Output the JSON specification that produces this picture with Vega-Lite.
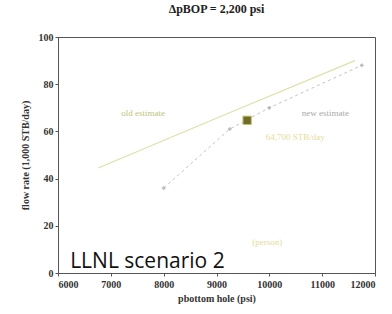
{
  "$schema": "https://vega.github.io/schema/vega-lite/v6.json",
  "width": 317,
  "height": 236,
  "autosize": {"type": "none"},
  "padding": {"left": 58, "top": 37, "right": 17, "bottom": 41},
  "background": "white",
  "title": {
    "text": "ΔpBOP = 2,200 psi",
    "font": "Liberation Serif",
    "fontSize": 12,
    "fontWeight": "bold",
    "color": "#222",
    "anchor": "middle",
    "offset": 16
  },
  "config": {
    "view": {"stroke": "#555", "strokeWidth": 1},
    "axis": {
      "grid": false,
      "domainColor": "#555",
      "tickColor": "#555",
      "tickSize": 3,
      "labelFont": "Liberation Serif",
      "labelFontSize": 10,
      "labelFontWeight": "bold",
      "labelColor": "#333",
      "titleFont": "Liberation Serif",
      "titleFontSize": 10,
      "titleFontWeight": "bold",
      "titleColor": "#333"
    }
  },
  "datasets": {
    "old": [
      {"p": 6760, "q": 44.5},
      {"p": 9200, "q": 67.5},
      {"p": 11620, "q": 90}
    ],
    "new": [
      {"p": 8000, "q": 36},
      {"p": 9250, "q": 61},
      {"p": 10000, "q": 70},
      {"p": 11750, "q": 88}
    ],
    "measured": [
      {"p": 9580, "q": 64.7}
    ]
  },
  "layer": [
    {
      "data": {"name": "old"},
      "mark": {"type": "line", "color": "#dfe0a8", "strokeWidth": 1.2},
      "encoding": {
        "x": {"field": "p", "type": "quantitative", "scale": {"domain": [6000, 12000], "nice": false},
          "axis": {"values": [6000, 7000, 8000, 9000, 10000, 11000, 12000], "format": "d", "title": "pbottom hole (psi)", "titlePadding": 4, "labelPadding": 3}},
        "y": {"field": "q", "type": "quantitative", "scale": {"domain": [0, 100], "nice": false},
          "axis": {"values": [0, 20, 40, 60, 80, 100], "title": "flow rate (1,000 STB/day)", "titlePadding": 8, "labelPadding": 2}}
      }
    },
    {
      "data": {"name": "new"},
      "mark": {"type": "line", "color": "#c4c4c4", "strokeWidth": 1, "strokeDash": [3, 3]},
      "encoding": {
        "x": {"field": "p", "type": "quantitative"},
        "y": {"field": "q", "type": "quantitative"}
      }
    },
    {
      "data": {"name": "new"},
      "mark": {"type": "point", "shape": "cross", "color": "#a0a0a0", "size": 14, "filled": true},
      "encoding": {
        "x": {"field": "p", "type": "quantitative"},
        "y": {"field": "q", "type": "quantitative"}
      }
    },
    {
      "data": {"name": "measured"},
      "mark": {"type": "square", "color": "#6f6c2c", "stroke": "#c9c26a", "strokeWidth": 1, "size": 70, "opacity": 1},
      "encoding": {
        "x": {"field": "p", "type": "quantitative"},
        "y": {"field": "q", "type": "quantitative"}
      }
    },
    {
      "data": {"values": [{"p": 7610, "q": 67.8, "label": "old estimate"}]},
      "mark": {"type": "text", "font": "Liberation Serif", "fontSize": 9, "color": "#bcc47a"},
      "encoding": {
        "x": {"field": "p", "type": "quantitative"},
        "y": {"field": "q", "type": "quantitative"},
        "text": {"field": "label"}
      }
    },
    {
      "data": {"values": [{"p": 11060, "q": 67.8, "label": "new estimate"}]},
      "mark": {"type": "text", "font": "Liberation Serif", "fontSize": 9, "color": "#a8a8a8"},
      "encoding": {
        "x": {"field": "p", "type": "quantitative"},
        "y": {"field": "q", "type": "quantitative"},
        "text": {"field": "label"}
      }
    },
    {
      "data": {"values": [{"p": 10490, "q": 57.6, "label": "64,700 STB/day"}, {"p": 9960, "q": 13.1, "label": "(person)"}]},
      "mark": {"type": "text", "font": "Liberation Serif", "fontSize": 9, "color": "#e6dc98"},
      "encoding": {
        "x": {"field": "p", "type": "quantitative"},
        "y": {"field": "q", "type": "quantitative"},
        "text": {"field": "label"}
      }
    },
    {
      "data": {"values": [{"p": 6230, "q": 2.1, "label": "LLNL scenario 2"}]},
      "mark": {"type": "text", "font": "Open Sans", "fontSize": 21, "color": "#111", "align": "left", "baseline": "alphabetic"},
      "encoding": {
        "x": {"field": "p", "type": "quantitative"},
        "y": {"field": "q", "type": "quantitative"},
        "text": {"field": "label"}
      }
    }
  ]
}
